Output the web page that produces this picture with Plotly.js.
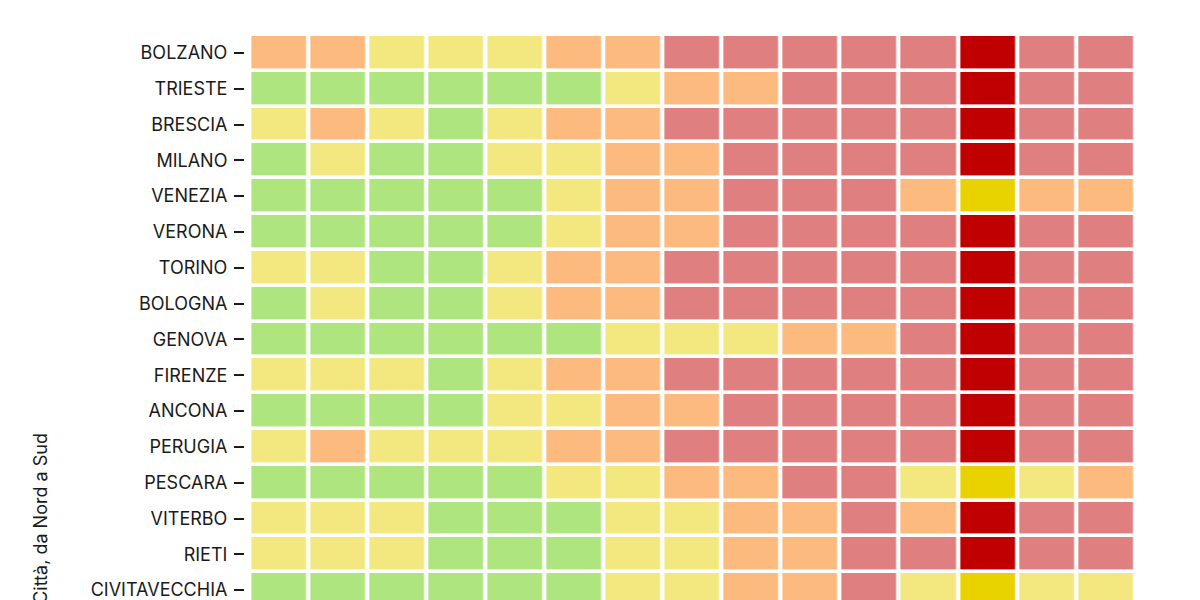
<!DOCTYPE html>
<html>
<head>
<meta charset="utf-8">
<script src="https://cdn.plot.ly/plotly-3.0.1.min.js"></script>
<style>
  html, body { margin: 0; padding: 0; overflow: hidden; background: #ffffff; }
  #chart { width: 1200px; height: 1040px; }
</style>
</head>
<body>
<div id="chart"></div>
<script>
// Cities, from North to South (rows visible in the reference)
const cities = ["BOLZANO", "TRIESTE", "BRESCIA", "MILANO", "VENEZIA", "VERONA", "TORINO", "BOLOGNA",
                "GENOVA", "FIRENZE", "ANCONA", "PERUGIA", "PESCARA", "VITERBO", "RIETI", "CIVITAVECCHIA"];

// Columns (periods), left to right
const columns = [1, 2, 3, 4, 5, 6, 7, 8, 9, 10, 11, 12, 13, 14, 15];

// Column shown at full intensity
const highlightColumn = 13;

// Class levels: 1 = green, 2 = yellow, 3 = orange, 4 = red
const levelNames = ["verde", "giallo", "arancione", "rosso"];
const levelColors = ["#5fcc00", "#e8d200", "#fb7700", "#c00000"];

const BOLZANO       = [3, 3, 2, 2, 2, 3, 3, 4, 4, 4, 4, 4, 4, 4, 4];
const TRIESTE       = [1, 1, 1, 1, 1, 1, 2, 3, 3, 4, 4, 4, 4, 4, 4];
const BRESCIA       = [2, 3, 2, 1, 2, 3, 3, 4, 4, 4, 4, 4, 4, 4, 4];
const MILANO        = [1, 2, 1, 1, 2, 2, 3, 3, 4, 4, 4, 4, 4, 4, 4];
const VENEZIA       = [1, 1, 1, 1, 1, 2, 3, 3, 4, 4, 4, 3, 2, 3, 3];
const VERONA        = [1, 1, 1, 1, 1, 2, 3, 3, 4, 4, 4, 4, 4, 4, 4];
const TORINO        = [2, 2, 1, 1, 2, 3, 3, 4, 4, 4, 4, 4, 4, 4, 4];
const BOLOGNA       = [1, 2, 1, 1, 2, 3, 3, 4, 4, 4, 4, 4, 4, 4, 4];
const GENOVA        = [1, 1, 1, 1, 1, 1, 2, 2, 2, 3, 3, 4, 4, 4, 4];
const FIRENZE       = [2, 2, 2, 1, 2, 3, 3, 4, 4, 4, 4, 4, 4, 4, 4];
const ANCONA        = [1, 1, 1, 1, 2, 2, 3, 3, 4, 4, 4, 4, 4, 4, 4];
const PERUGIA       = [2, 3, 2, 2, 2, 3, 3, 4, 4, 4, 4, 4, 4, 4, 4];
const PESCARA       = [1, 1, 1, 1, 1, 2, 2, 3, 3, 4, 4, 2, 2, 2, 3];
const VITERBO       = [2, 2, 2, 1, 1, 1, 2, 2, 3, 3, 4, 3, 4, 4, 4];
const RIETI         = [2, 2, 2, 1, 1, 1, 2, 2, 3, 3, 4, 4, 4, 4, 4];
const CIVITAVECCHIA = [1, 1, 1, 1, 1, 1, 2, 2, 3, 3, 4, 2, 2, 2, 2];

const z = [BOLZANO, TRIESTE, BRESCIA, MILANO, VENEZIA, VERONA, TORINO, BOLOGNA,
           GENOVA, FIRENZE, ANCONA, PERUGIA, PESCARA, VITERBO, RIETI, CIVITAVECCHIA];

// discrete colorscale
const n = levelColors.length;
const colorscale = [];
levelColors.forEach((c, i) => { colorscale.push([i / n, c]); colorscale.push([(i + 1) / n, c]); });

const hiIdx = columns.indexOf(highlightColumn);
const zHighlight = z.map(row => row.map((v, i) => (i === hiIdx ? v : null)));
const zBase = z.map(row => row.map((v, i) => (i === hiIdx ? null : v)));

const common = {
  type: "heatmap",
  x: columns,
  y: cities,
  colorscale: colorscale,
  zmin: 0.5,
  zmax: n + 0.5,
  showscale: false,
  xgap: 4.3,
  ygap: 3.6,
  hoverinfo: "skip"
};

const traces = [
  Object.assign({}, common, { z: zBase, opacity: 0.5 }),
  Object.assign({}, common, { z: zHighlight, opacity: 1 })
];

const FONT = "Inter, 'Liberation Sans', Arial, sans-serif";

const layout = {
  width: 1200,
  height: 1040,
  margin: { l: 244, r: 65, t: 35, b: 38 },
  paper_bgcolor: "#ffffff",
  plot_bgcolor: "#ffffff",
  font: { family: FONT, color: "#1a1a1a" },
  showlegend: false,
  xaxis: {
    type: "category",
    domain: [0.006, 1],
    range: [-0.5, columns.length - 0.5],
    showticklabels: false,
    ticks: "",
    showgrid: false,
    zeroline: false,
    showline: false,
    fixedrange: true
  },
  yaxis: {
    type: "category",
    anchor: "free",
    position: 0,
    range: [26.5, -0.5],
    ticks: "outside",
    ticklen: 10,
    tickwidth: 2,
    tickcolor: "#1a1a1a",
    ticklabelstandoff: 3,
    tickfont: { family: FONT, size: 18, color: "#1a1a1a" },
    showgrid: false,
    zeroline: false,
    showline: false,
    fixedrange: true,
    title: {
      text: "Città, da Nord a Sud",
      font: { family: FONT, size: 18, color: "#1a1a1a" },
      standoff: 37
    }
  }
};

Plotly.newPlot("chart", traces, layout, { displayModeBar: false, staticPlot: true });
</script>
</body>
</html>
